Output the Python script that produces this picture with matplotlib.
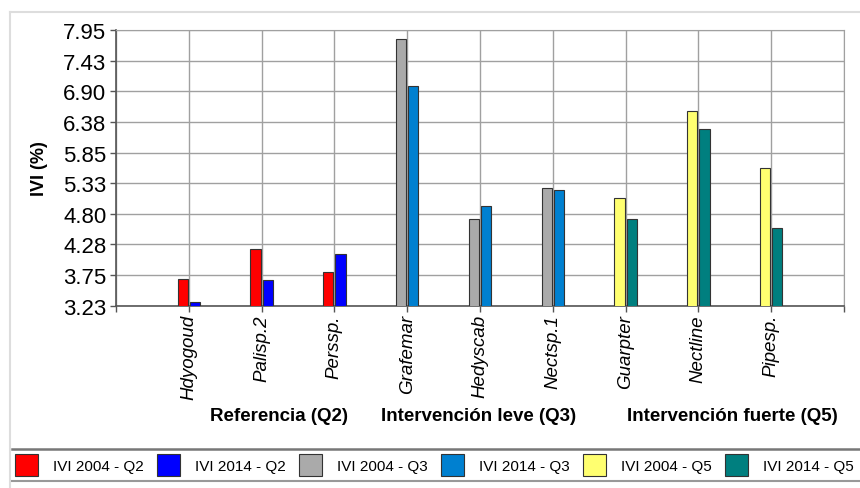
import matplotlib
matplotlib.use("Agg")
import matplotlib.pyplot as plt
import numpy as np
from matplotlib.lines import Line2D
from matplotlib.patches import Patch

species = ["Hdyogoud", "Palisp.2", "Perssp.",
           "Grafemar", "Hedyscab", "Nectsp.1",
           "Guarpter", "Nectline", "Pipesp."]
groups = ["Referencia (Q2)", "Intervención leve (Q3)", "Intervención fuerte (Q5)"]

ivi_2004_q2 = [3.69, 4.20, 3.80]
ivi_2014_q2 = [3.29, 3.67, 4.11]
ivi_2004_q3 = [7.80, 4.71, 5.25]
ivi_2014_q3 = [6.99, 4.94, 5.21]
ivi_2004_q5 = [5.08, 6.56, 5.58]
ivi_2014_q5 = [4.71, 6.25, 4.56]

series_labels = ["IVI 2004 - Q2", "IVI 2014 - Q2", "IVI 2004 - Q3",
                 "IVI 2014 - Q3", "IVI 2004 - Q5", "IVI 2014 - Q5"]
colors = ["#ff0000", "#0000ff", "#aaaaaa", "#0080d0", "#ffff70", "#007f7f"]

y_min, y_max = 3.23, 7.95

plt.rcParams["font.family"] = ["Liberation Sans", "DejaVu Sans"]

fig = plt.figure(figsize=(8.6, 4.89), dpi=100)
ax = fig.add_axes([116 / 860, 1 - 306.7 / 489, 728 / 860, 275.7 / 489])

pos = np.arange(1, len(species) + 1)
width = 0.14
off = 0.085

pairs = [(ivi_2004_q2, ivi_2014_q2), (ivi_2004_q3, ivi_2014_q3), (ivi_2004_q5, ivi_2014_q5)]
for g, (a, b) in enumerate(pairs):
    p = pos[g * 3:(g + 1) * 3]
    ax.bar(p - off, a, width, color=colors[2 * g], edgecolor="#333333", linewidth=0.8, zorder=3)
    ax.bar(p + off, b, width, color=colors[2 * g + 1], edgecolor="#333333", linewidth=0.8, zorder=3)

ax.set_xlim(0, len(species) + 1)
ax.set_ylim(y_min, y_max)

yt = np.linspace(y_min, y_max, 10)
ax.set_yticks(yt)
ax.set_yticklabels([f"{v:.2f}" for v in yt], fontsize=16)

ax.set_xticks(np.arange(0, len(species) + 2))
ax.set_xticklabels([""] + species + [""], rotation=90, fontsize=13.5, style="italic")

ax.tick_params(axis="both", direction="out", length=4, width=1, color="#555555", pad=2)
ax.tick_params(axis="y", pad=3)

ax.grid(True, color="#a0a0a0", linewidth=1, zorder=0)
for s in ["top", "right"]:
    ax.spines[s].set_color("#a0a0a0")
for s in ["left", "bottom"]:
    ax.spines[s].set_color("#555555")
    ax.spines[s].set_linewidth(1.2)

fig.text(40 / 860, 1 - 169 / 489, "IVI (%)", rotation=90, fontsize=13,
         fontweight="bold", ha="center", va="center")

group_x = [278.5, 478.5, 732]
for gx, name in zip(group_x, groups):
    fig.text(gx / 860, 1 - 417 / 489, name, fontsize=13.5, fontweight="bold",
             ha="center", va="center")

# marco exterior y lineas de la leyenda
fig.add_artist(Line2D([10 / 860, 1], [1 - 13 / 489] * 2, color="#dddddd", lw=1.5))
fig.add_artist(Line2D([10 / 860] * 2, [0, 1 - 13 / 489], color="#dddddd", lw=1.5))
fig.add_artist(Line2D([12 / 860, 1], [1 - 450 / 489] * 2, color="#777777", lw=1.8))
fig.add_artist(Line2D([12 / 860, 1], [1 - 482 / 489] * 2, color="#999999", lw=1.5))

handles = [Patch(facecolor=c, edgecolor="#333333", linewidth=0.8) for c in colors]
fig.legend(handles, series_labels, loc="center left", ncol=6,
           bbox_to_anchor=(15 / 860, 1 - 466 / 489), frameon=False, fontsize=11,
           handlelength=1.5, handleheight=1.85, handletextpad=1.0,
           columnspacing=0.85, borderaxespad=0, borderpad=0)

fig.savefig("out.png", dpi=100)
